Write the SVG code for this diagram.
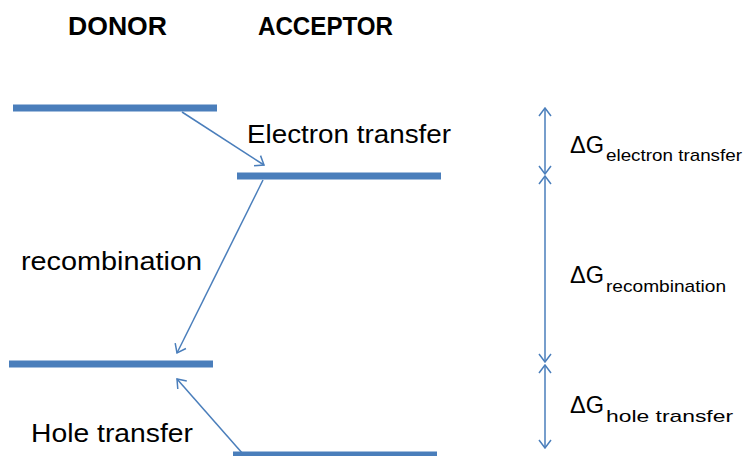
<svg xmlns="http://www.w3.org/2000/svg" width="745" height="456" viewBox="0 0 745 456">
<style>
.bar{stroke:#4a7ebb;stroke-width:7;fill:none}
.arr{stroke:#4a7ebb;stroke-width:1.5;fill:none}
.t{font-family:"Liberation Sans",Arial,sans-serif;fill:#000}
.h{font-size:26px;font-weight:bold}
.b{font-size:25px}
.g{font-size:24px}
.s{font-size:17px}
</style>
<defs>
<marker id="ah" viewBox="0 0 10 14" refX="9" refY="7" markerWidth="10" markerHeight="14" markerUnits="userSpaceOnUse" orient="auto-start-reverse">
<path d="M1,1 L9,7 L1,13" fill="none" stroke="#4a7ebb" stroke-width="1.5"/>
</marker>
</defs>
<rect width="745" height="456" fill="#fff"/>
<g id="headers">
<text class="t h" x="68" y="35" textLength="99" lengthAdjust="spacingAndGlyphs">DONOR</text>
<text class="t h" x="258" y="35" textLength="135" lengthAdjust="spacingAndGlyphs">ACCEPTOR</text>
</g>
<g id="donor-lumo"><line class="bar" x1="13" y1="108" x2="217" y2="108"/></g>
<g id="acceptor-lumo"><line class="bar" x1="237" y1="176" x2="441" y2="176"/></g>
<g id="donor-homo"><line class="bar" x1="9" y1="364" x2="213" y2="364"/></g>
<g id="acceptor-homo"><line class="bar" x1="233" y1="455" x2="437" y2="455"/></g>
<g id="connectors">
<line class="arr" x1="182" y1="112" x2="264" y2="165" marker-end="url(#ah)"/>
<line class="arr" x1="263" y1="180" x2="177" y2="353" marker-end="url(#ah)"/>
<line class="arr" x1="243" y1="454" x2="177" y2="379" marker-end="url(#ah)"/>
<line class="arr" x1="545" y1="108" x2="545" y2="174" marker-start="url(#ah)" marker-end="url(#ah)"/>
<line class="arr" x1="545" y1="176" x2="545" y2="362" marker-start="url(#ah)" marker-end="url(#ah)"/>
<line class="arr" x1="545" y1="365" x2="545" y2="448" marker-start="url(#ah)" marker-end="url(#ah)"/>
</g>
<g id="labels">
<text class="t b" x="247" y="143" textLength="204" lengthAdjust="spacingAndGlyphs">Electron transfer</text>
<text class="t b" x="21" y="270" textLength="181" lengthAdjust="spacingAndGlyphs">recombination</text>
<text class="t b" x="31" y="442" textLength="162" lengthAdjust="spacingAndGlyphs">Hole transfer</text>
</g>
<g id="dg-electron">
<text class="t g" x="570" y="153" textLength="34" lengthAdjust="spacingAndGlyphs">ΔG</text>
<text class="t s" x="606" y="161" textLength="136" lengthAdjust="spacingAndGlyphs">electron transfer</text>
</g>
<g id="dg-recombination">
<text class="t g" x="570" y="283" textLength="34" lengthAdjust="spacingAndGlyphs">ΔG</text>
<text class="t s" x="606" y="292" textLength="120" lengthAdjust="spacingAndGlyphs">recombination</text>
</g>
<g id="dg-hole">
<text class="t g" x="570" y="413" textLength="34" lengthAdjust="spacingAndGlyphs">ΔG</text>
<text class="t s" x="606" y="422" textLength="127" lengthAdjust="spacingAndGlyphs">hole transfer</text>
</g>
</svg>
